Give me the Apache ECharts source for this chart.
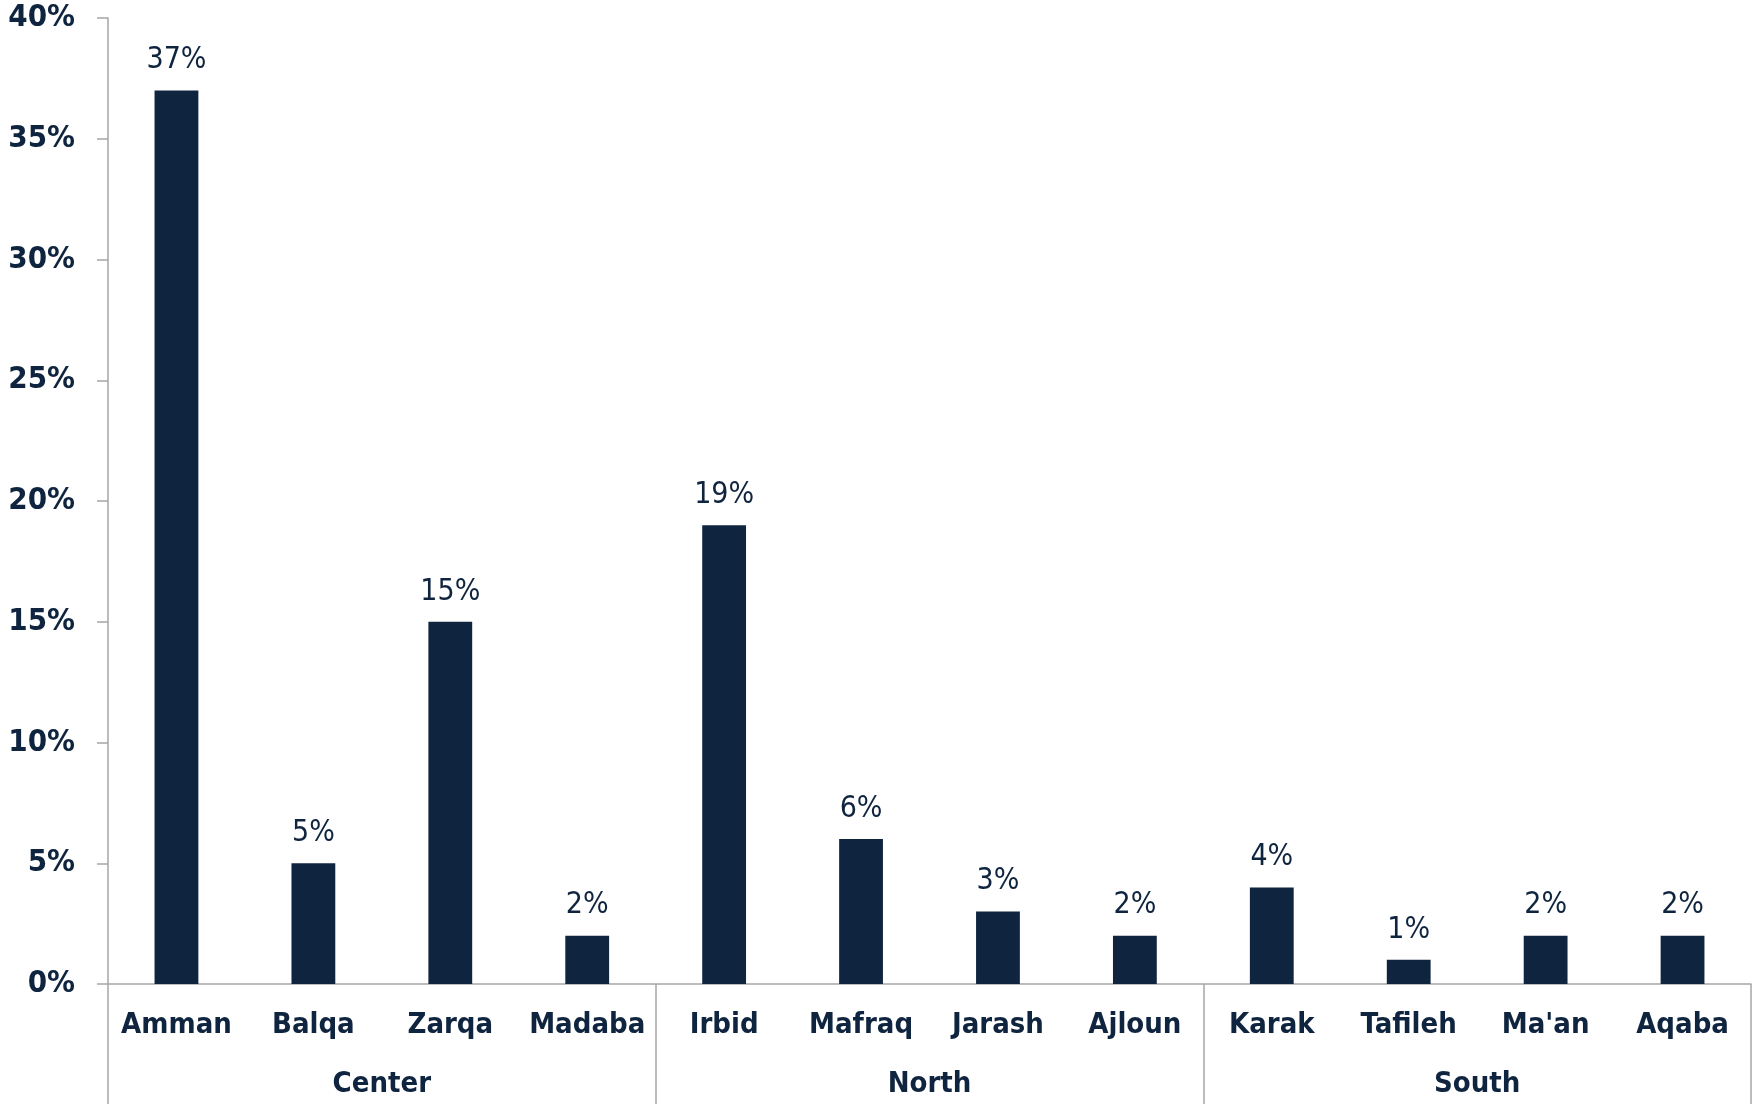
<!DOCTYPE html>
<html>
<head>
<meta charset="utf-8">
<script src="https://cdn.jsdelivr.net/npm/echarts@6/dist/echarts.min.js"></script>
<style>
html,body{margin:0;padding:0;background:#fff;}
#chart{width:1752px;height:1104px;}
</style>
</head>
<body>
<div id="chart"></div>
<script>
const categories = ["Amman","Balqa","Zarqa","Madaba","Irbid","Mafraq","Jarash","Ajloun","Karak","Tafileh","Ma'an","Aqaba"];
const groups = ["Center","North","South"];
const values = [37,5,15,2,19,6,3,2,4,1,2,2];
const yTicks = {min:0, max:40, interval:5};

const navy = '#0F243E';
const axisGray = '#A6A6A6';
const font = '"DejaVu Sans Condensed","DejaVu Sans",sans-serif';

const chart = echarts.init(document.getElementById('chart'), null, {renderer:'canvas'});
chart.setOption({
  animation:false,
  backgroundColor:'#fff',
  grid:{left:108, right:1, top:18, bottom:120, containLabel:false},
  xAxis:[{
    type:'category', data:categories, position:'bottom',
    axisLine:{show:true, lineStyle:{color:axisGray, width:1.5}},
    axisTick:{show:false},
    axisLabel:{color:navy, fontFamily:font, fontWeight:'bold', fontSize:29, margin:27, interval:0}
  },{
    type:'category', data:groups, position:'bottom', gridIndex:0,
    axisLine:{show:false},
    axisTick:{show:true, length:122, lineStyle:{color:axisGray, width:1.5}},
    axisLabel:{color:navy, fontFamily:font, fontWeight:'bold', fontSize:29, margin:86, interval:0}
  }],
  yAxis:{
    type:'value', min:yTicks.min, max:yTicks.max, interval:yTicks.interval,
    axisLine:{show:true, lineStyle:{color:axisGray, width:1.5}},
    axisTick:{show:true, inside:false, length:11, lineStyle:{color:axisGray, width:1.5}},
    splitLine:{show:false},
    axisLabel:{color:navy, fontFamily:font, fontWeight:'bold', fontSize:31, margin:33, formatter:'{value}%'}
  },
  series:[{
    type:'bar', data:values, xAxisIndex:0, barWidth:'32%',
    itemStyle:{color:navy},
    label:{show:true, position:'top', distance:15, color:navy, fontFamily:font, fontSize:30, formatter:'{c}%'}
  }]
});
</script>
</body>
</html>
